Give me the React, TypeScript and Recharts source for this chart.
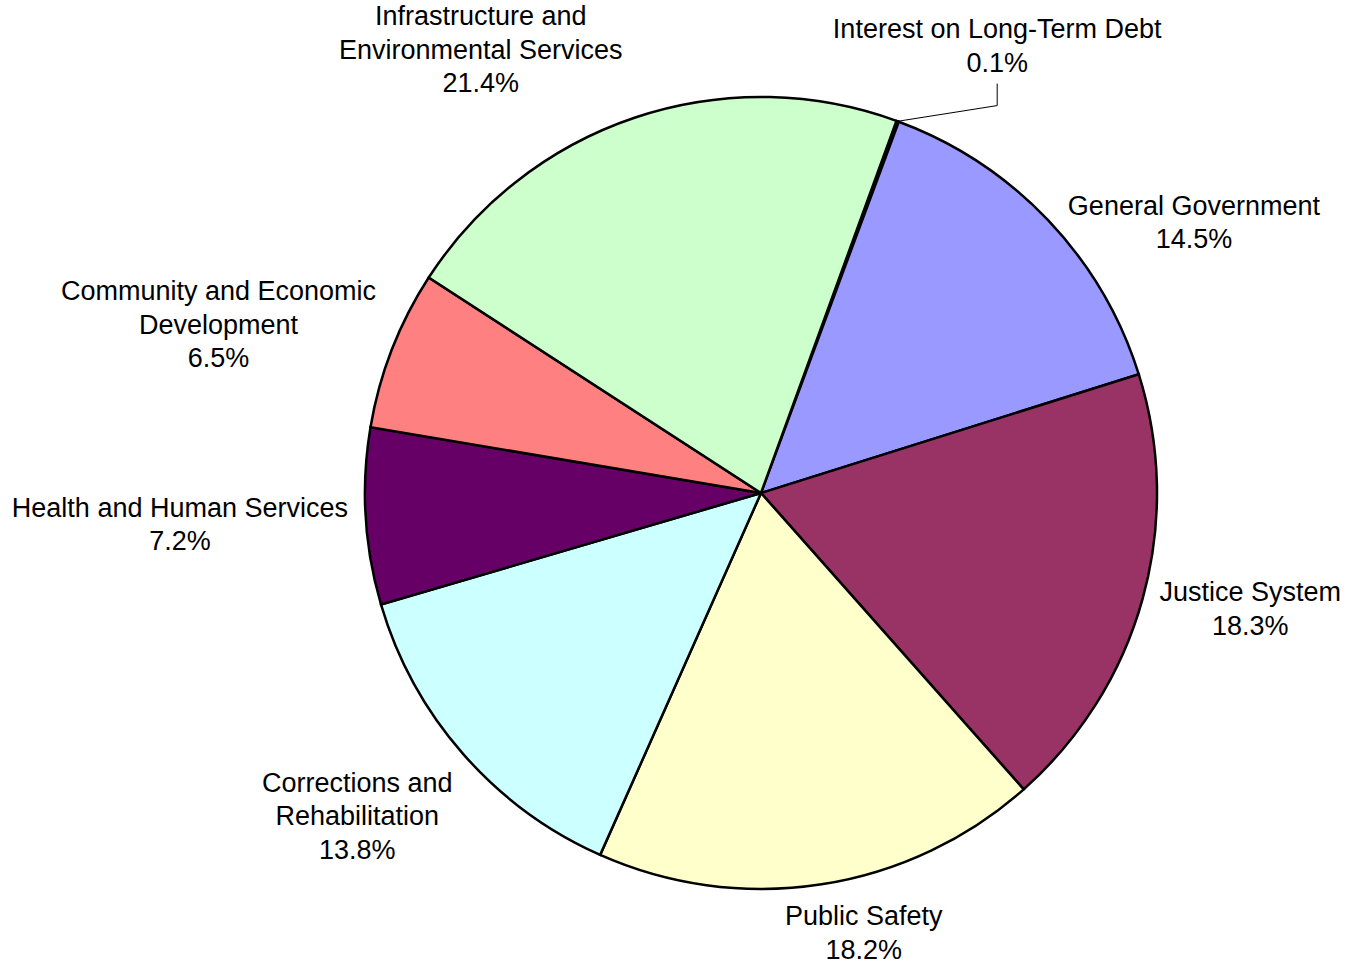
import React from "react";
import { Cell, Pie, PieChart } from "recharts";

const categories = [
  "Interest on Long-Term Debt",
  "General Government",
  "Justice System",
  "Public Safety",
  "Corrections and Rehabilitation",
  "Health and Human Services",
  "Community and Economic Development",
  "Infrastructure and Environmental Services",
];

// how each category name wraps in its label
const labelLines = [
  ["Interest on Long-Term Debt"],
  ["General Government"],
  ["Justice System"],
  ["Public Safety"],
  ["Corrections and", "Rehabilitation"],
  ["Health and Human Services"],
  ["Community and Economic", "Development"],
  ["Infrastructure and", "Environmental Services"],
];

const shares = [0.1, 14.5, 18.3, 18.2, 13.8, 7.2, 6.5, 21.4];

const colors = [
  "#0066CC",
  "#9999FF",
  "#993366",
  "#FFFFCC",
  "#CCFFFF",
  "#660066",
  "#FF8080",
  "#CCFFCC",
];

const chartData = categories.map((name, i) => ({
  name,
  value: shares[i],
  lines: labelLines[i],
}));

const FONT = "'Liberation Sans', Arial, sans-serif";
const FONT_SIZE = 27;
const LINE_H = 33.5;

// Excel nudged some labels away from the plain radial spot
const labelNudge: Record<string, [number, number]> = {
  "Interest on Long-Term Debt": [36, -25],
  "General Government": [40, 39],
  "Justice System": [1, -4],
  "Public Safety": [27, -4],
  "Corrections and Rehabilitation": [-19, 16],
  "Health and Human Services": [2, 5],
  "Community and Economic Development": [-8, 1],
  "Infrastructure and Environmental Services": [-103, -1],
};

let measureCtx: CanvasRenderingContext2D | null = null;
function textWidth(s: string) {
  if (!measureCtx) {
    measureCtx = document.createElement("canvas").getContext("2d");
  }
  if (!measureCtx) return s.length * 13;
  measureCtx.font = `${FONT_SIZE}px 'Liberation Sans', Arial`;
  return measureCtx.measureText(s).width;
}

function renderLabel(props: any) {
  const { cx, cy, midAngle, outerRadius, payload, value } = props;
  const rad = (midAngle * Math.PI) / 180;
  const sx = Math.cos(rad);
  const sy = -Math.sin(rad);
  const lines: string[] = [...payload.lines, `${Number(value).toFixed(1)}%`];
  const w = Math.max(...lines.map(textWidth));
  const h = lines.length * LINE_H;
  const gap = 20;
  const ax = cx + (outerRadius + gap) * sx;
  const ay = cy + (outerRadius + gap) * sy;
  const nudge = labelNudge[payload.name] ?? [0, 0];
  const bx = ax + (w / 2) * sx + nudge[0];
  const by = ay + (h / 2) * sy + nudge[1];

  let leader = null;
  if (value < 1) {
    const px = cx + outerRadius * sx;
    const py = cy + outerRadius * sy;
    const bottom = by + h / 2;
    leader = (
      <polyline
        points={`${px},${py} ${bx},${bottom + 26} ${bx},${bottom + 4}`}
        fill="none"
        stroke="#000"
        strokeWidth={1}
      />
    );
  }

  return (
    <g key={payload.name}>
      {leader}
      <text
        textAnchor="middle"
        dominantBaseline="central"
        fontFamily={FONT}
        fontSize={FONT_SIZE}
        fill="#000"
      >
        {lines.map((line, i) => (
          <tspan key={i} x={bx} y={by + (i - (lines.length - 1) / 2) * LINE_H}>
            {line}
          </tspan>
        ))}
      </text>
    </g>
  );
}

export default function App() {
  return (
    <div style={{ position: "absolute", left: 0, top: 0, background: "#fff" }}>
      <PieChart width={1349} height={970} margin={{ top: 0, right: 0, bottom: 0, left: 0 }}>
        <Pie
          data={chartData}
          dataKey="value"
          nameKey="name"
          cx={761}
          cy={493}
          outerRadius={396}
          startAngle={70}
          endAngle={-290}
          stroke="#000"
          strokeWidth={2.5}
          label={renderLabel}
          labelLine={false}
          isAnimationActive={false}
        >
          {chartData.map((d, i) => (
            <Cell key={d.name} fill={colors[i]} />
          ))}
        </Pie>
      </PieChart>
    </div>
  );
}
